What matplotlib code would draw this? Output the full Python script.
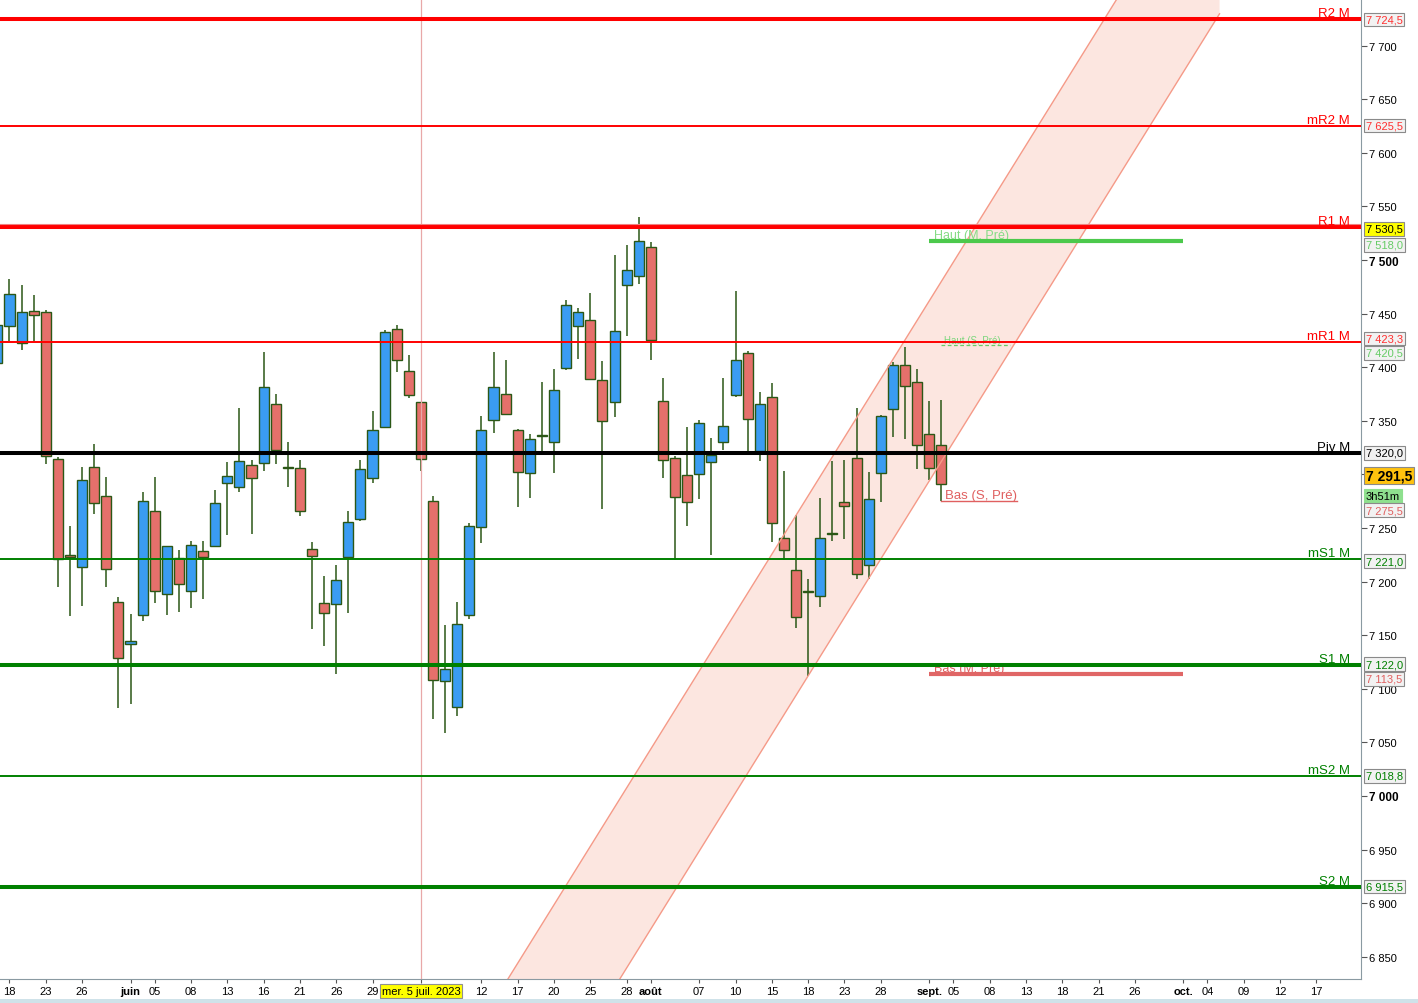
import matplotlib
matplotlib.use('Agg')
import matplotlib.pyplot as plt
import matplotlib.transforms as mtransforms
from matplotlib.patches import Rectangle
import numpy as np

plt.rcParams['font.family'] = ['Liberation Sans', 'DejaVu Sans']

# ---------------- data ----------------
first_index = -1
opens = [7403.6, 7438.5, 7422.9, 7452.5, 7451.5, 7314.4, 7225.0, 7213.6, 7306.9, 7279.8,
         7180.9, 7141.7, 7168.8, 7265.8, 7188.4, 7222.0, 7191.2, 7228.5, 7233.2, 7292.0,
         7288.2, 7308.7, 7310.6, 7365.7, 7306.8, 7306.0, 7230.4, 7180.0, 7179.0, 7222.9,
         7258.4, 7296.6, 7344.2, 7435.6, 7396.5, 7367.5, 7275.1, 7107.2, 7082.9, 7168.7,
         7250.7, 7350.7, 7375.0, 7341.3, 7301.2, 7336.0, 7330.2, 7399.4, 7438.5, 7444.1,
         7388.0, 7367.4, 7476.6, 7485.1, 7512.3, 7368.1, 7315.3, 7299.4, 7300.4, 7311.5,
         7330.2, 7374.1, 7413.3, 7321.4, 7372.2, 7240.6, 7210.8, 7191.0, 7186.5, 7244.3,
         7274.5, 7315.3, 7215.4, 7301.3, 7361.0, 7402.1, 7386.2, 7337.7, 7327.4]
highs = [7445.0, 7482.6, 7477.0, 7467.7, 7453.0, 7316.0, 7251.5, 7307.2, 7328.6, 7297.8,
         7185.6, 7170.0, 7283.6, 7297.8, 7233.5, 7229.7, 7237.5, 7238.0, 7285.7, 7311.5,
         7362.2, 7313.7, 7414.5, 7375.3, 7330.5, 7313.7, 7237.2, 7205.5, 7215.7, 7265.5,
         7313.7, 7359.4, 7435.0, 7439.0, 7411.7, 7368.0, 7280.0, 7159.3, 7181.0, 7254.5,
         7354.8, 7414.5, 7406.9, 7342.0, 7337.8, 7386.4, 7398.7, 7463.1, 7455.4, 7469.3,
         7405.6, 7505.0, 7514.1, 7540.3, 7517.0, 7389.8, 7317.0, 7344.5, 7351.0, 7333.9,
         7390.2, 7471.1, 7414.8, 7376.9, 7385.3, 7303.2, 7261.7, 7202.7, 7278.2, 7312.8,
         7313.7, 7362.2, 7302.5, 7355.0, 7405.0, 7418.9, 7398.6, 7368.5, 7369.7]
lows = [7395.0, 7424.1, 7415.7, 7424.1, 7309.3, 7194.5, 7167.5, 7176.8, 7262.7, 7194.5,
        7081.6, 7085.4, 7163.7, 7180.0, 7168.4, 7171.2, 7175.0, 7183.3, 7232.5, 7243.1,
        7283.6, 7244.0, 7302.8, 7309.3, 7287.8, 7261.2, 7155.4, 7139.5, 7113.4, 7170.3,
        7256.5, 7292.0, 7343.0, 7395.5, 7371.3, 7303.0, 7071.6, 7058.3, 7074.7, 7165.2,
        7235.6, 7339.1, 7355.0, 7270.0, 7277.6, 7320.8, 7300.9, 7397.1, 7408.1, 7388.0,
        7267.5, 7353.3, 7429.6, 7477.6, 7406.5, 7297.1, 7220.4, 7251.5, 7276.7, 7224.4,
        7322.4, 7372.2, 7320.9, 7312.1, 7236.9, 7220.4, 7156.3, 7111.9, 7175.9, 7237.5,
        7239.3, 7202.0, 7202.0, 7273.9, 7334.5, 7332.6, 7304.7, 7294.4, 7275.5]
closes = [7439.7, 7468.6, 7451.5, 7448.7, 7317.2, 7221.0, 7223.0, 7295.0, 7273.3, 7211.7,
          7128.7, 7144.5, 7275.2, 7191.2, 7233.2, 7197.7, 7234.1, 7222.9, 7273.3, 7298.5,
          7312.5, 7296.6, 7381.5, 7322.7, 7306.2, 7265.8, 7223.8, 7170.6, 7201.4, 7255.6,
          7305.0, 7341.4, 7432.9, 7406.7, 7374.1, 7314.4, 7108.5, 7118.9, 7160.2, 7251.7,
          7341.3, 7381.3, 7356.4, 7302.1, 7333.1, 7336.5, 7378.8, 7458.0, 7451.4, 7388.9,
          7349.8, 7433.7, 7490.8, 7517.6, 7425.2, 7313.5, 7278.9, 7274.2, 7347.9, 7317.7,
          7345.1, 7406.7, 7351.7, 7365.7, 7254.6, 7229.4, 7166.9, 7190.5, 7240.6, 7244.9,
          7270.1, 7207.0, 7277.0, 7354.5, 7402.1, 7382.5, 7327.4, 7306.0, 7291.5]

level_names = ['R2 M', 'mR2 M', 'R1 M', 'mR1 M', 'Piv M', 'mS1 M', 'S1 M', 'mS2 M', 'S2 M']
level_values = [7724.5, 7625.5, 7530.5, 7423.3, 7320.0, 7221.0, 7122.0, 7018.8, 6915.5]

haut_m_pre = 7518.0
haut_s_pre = 7420.5
bas_s_pre = 7275.5
bas_m_pre = 7113.5
last_price = 7291.5
time_left = '3h51m'

channel_x = [40, 100]
channel_upper = [6807.6, 7897.8]
channel_lower = [6639.6, 7729.8]

cursor_index = 34
cursor_label = 'mer. 5 juil. 2023'

xtick_pos = [0, 3, 6, 10, 12, 15, 18, 21, 24, 27, 30, 34, 39, 42, 45, 48, 51, 53, 57, 60,
             63, 66, 69, 72, 76, 78, 81, 84, 87, 90, 93, 97, 99, 102, 105, 108]
xtick_labels = ['18', '23', '26', 'juin', '05', '08', '13', '16', '21', '26', '29', cursor_label,
                '12', '17', '20', '25', '28', 'août', '07', '10', '15', '18', '23', '28',
                'sept.', '05', '08', '13', '18', '21', '26', 'oct.', '04', '09', '12', '17']
month_labels = ['juin', 'août', 'sept.', 'oct.']
ytick_values = [6850, 6900, 6950, 7000, 7050, 7100, 7150, 7200, 7250, 7300, 7350,
                7400, 7450, 7500, 7550, 7600, 7650, 7700]
hidden_ytick = 7300  # covered by the last-price tag in the original

# ---------------- figure ----------------
W, H = 1418, 1004
fig = plt.figure(figsize=(W / 100, H / 100), dpi=100)
fig.patch.set_facecolor('white')
fig.add_artist(Rectangle((0, 0), 1, 4 / H, transform=fig.transFigure,
                         facecolor='#cfe2e9', edgecolor='none'))
ax = fig.add_axes([0, 24 / H, 1361 / W, 980 / H])
ax.set_xlim(-0.785, 111.69)
ax.set_ylim(6829.2, 7743.6)

RED = '#ff0000'
GREEN = '#008000'

# channel
ax.fill_between(channel_x, channel_lower, channel_upper, color='#fce6e0', zorder=1, lw=0)
ax.plot(channel_x, channel_upper, color='#f59a88', lw=1.0, zorder=4)
ax.plot(channel_x, channel_lower, color='#f59a88', lw=1.0, zorder=4)

# cursor vertical line
ax.axvline(cursor_index, color='#e8a8a8', lw=0.9, zorder=4)

# candles
idx = np.arange(first_index, first_index + len(opens))
o = np.array(opens); h = np.array(highs); l = np.array(lows); c = np.array(closes)
up = c >= o
edge = '#2b5716'
ax.vlines(idx, l, h, color=edge, lw=1.1, zorder=2)
bottoms = np.minimum(o, c)
heights = np.maximum(np.abs(c - o), 0.6)
ax.bar(idx[up], heights[up], bottom=bottoms[up], width=0.83,
       color='#3a9cf2', edgecolor=edge, linewidth=1.0, zorder=3)
ax.bar(idx[~up], heights[~up], bottom=bottoms[~up], width=0.83,
       color='#e5706b', edgecolor=edge, linewidth=1.0, zorder=3)

# horizontal levels
thick = {'R2 M', 'R1 M', 'Piv M', 'S1 M', 'S2 M'}
for name, val in zip(level_names, level_values):
    col = 'black' if name.startswith('Piv') else (RED if 'R' in name else GREEN)
    lw = 2.9 if name in thick else 1.4
    ax.axhline(val, color=col, lw=lw, zorder=5)
    ax.text(1350 / 1361, val, name, transform=ax.get_yaxis_transform(), ha='right',
            va='bottom', fontsize=9.5, color=col, zorder=6)
# thin line just above R1
r1_thin = mtransforms.offset_copy(ax.get_yaxis_transform(), fig=fig, x=0, y=3.5, units='dots')
ax.plot([0, 1], [level_values[2], level_values[2]], transform=r1_thin,
        color='#f08080', lw=0.8, zorder=5)

# previous highs / lows
ax.text(76.4, haut_m_pre, 'Haut (M, Pré)', color='#86dc86', fontsize=9, va='bottom', zorder=4.5)
ax.plot([76, 97], [haut_m_pre, haut_m_pre], color='#4cc94c', lw=3, zorder=4.6, solid_capstyle='butt')
ax.text(77.2, haut_s_pre, 'Haut (S, Pré)', color='#7cd67c', fontsize=7, va='bottom', zorder=4.5)
ax.plot([77, 82.7], [haut_s_pre, haut_s_pre], color='#66cc66', lw=0.9, ls=(0, (3, 2)), zorder=4.6)
ax.text(77.3, bas_s_pre, 'Bas (S, Pré)', color='#e06060', fontsize=9.5, va='bottom', zorder=4.5)
ax.plot([77, 83.3], [bas_s_pre, bas_s_pre], color='#e06060', lw=1.0, zorder=4.6)
ax.text(76.4, bas_m_pre, 'Bas (M, Pré)', color='#e06060', fontsize=9, va='bottom', zorder=4.5)
ax.plot([76, 97], [bas_m_pre, bas_m_pre], color='#e06666', lw=3, zorder=4.6, solid_capstyle='butt')

# axes styling
for s in ['top', 'left']:
    ax.spines[s].set_visible(False)
ax.spines['right'].set_color('#8a9aa2')
ax.spines['bottom'].set_color('#8a9aa2')
ax.yaxis.tick_right()
ax.set_yticks(ytick_values)
ax.set_yticklabels(['' if v == hidden_ytick else f'{v:,}'.replace(',', ' ') for v in ytick_values])
ax.tick_params(axis='y', length=4, pad=2, labelsize=8, colors='#555555', labelcolor='black')
for lab, v in zip(ax.get_yticklabels(), ytick_values):
    if v in (7000, 7500):
        lab.set_fontweight('bold')
        lab.set_fontsize(8.5)

ax.set_xticks(xtick_pos)
ax.set_xticklabels(xtick_labels)
ax.tick_params(axis='x', length=3, pad=2, labelsize=8, colors='#555555', labelcolor='black')
for lab in ax.get_xticklabels():
    t = lab.get_text()
    if t in month_labels:
        lab.set_fontweight('bold')
    if t == cursor_label:
        lab.set_bbox(dict(facecolor='#ffff00', edgecolor='#909090', pad=1.2, lw=0.8))

# right side value boxes
def rbox(val, text, tc, fc='#f2f2f2', dy=0, bold=False, size=8, ec='#8a8a8a'):
    tr = mtransforms.offset_copy(ax.get_yaxis_transform(), fig=fig, x=0, y=dy, units='dots')
    ax.text(1.0035, val, text, transform=tr, ha='left', va='center', fontsize=size,
            color=tc, fontweight='bold' if bold else 'normal', clip_on=False, zorder=10,
            bbox=dict(facecolor=fc, edgecolor=ec, pad=1.3, lw=0.8))

def fmt(v):
    return f'{v:,.1f}'.replace(',', ' ').replace('.', ',')

rbox(level_values[0], fmt(level_values[0]), '#ff3030')
rbox(level_values[1], fmt(level_values[1]), '#ff3030')
rbox(level_values[2], fmt(level_values[2]), 'black', fc='#ffff00', dy=-1.5)
rbox(haut_m_pre, fmt(haut_m_pre), '#66cc66', dy=-4)
rbox(level_values[3], fmt(level_values[3]), '#ff3030', dy=4)
rbox(haut_s_pre, fmt(haut_s_pre), '#66cc66', dy=-7.5)
rbox(level_values[4], fmt(level_values[4]), 'black')
rbox(last_price, fmt(last_price), 'black', fc='#ffc20e', dy=8, bold=True, size=10)
rbox(last_price, time_left, 'black', fc='#8ee08e', dy=-12.5, size=8, ec='#8ee08e')
rbox(bas_s_pre, fmt(bas_s_pre), '#e06060', dy=-9.5)
rbox(level_values[5], fmt(level_values[5]), GREEN, dy=-2)
rbox(level_values[6], fmt(level_values[6]), GREEN, dy=1)
rbox(bas_m_pre, fmt(bas_m_pre), '#e06060', dy=-4.5)
rbox(level_values[7], fmt(level_values[7]), GREEN)
rbox(level_values[8], fmt(level_values[8]), GREEN)

fig.savefig('out.png', dpi=100)
